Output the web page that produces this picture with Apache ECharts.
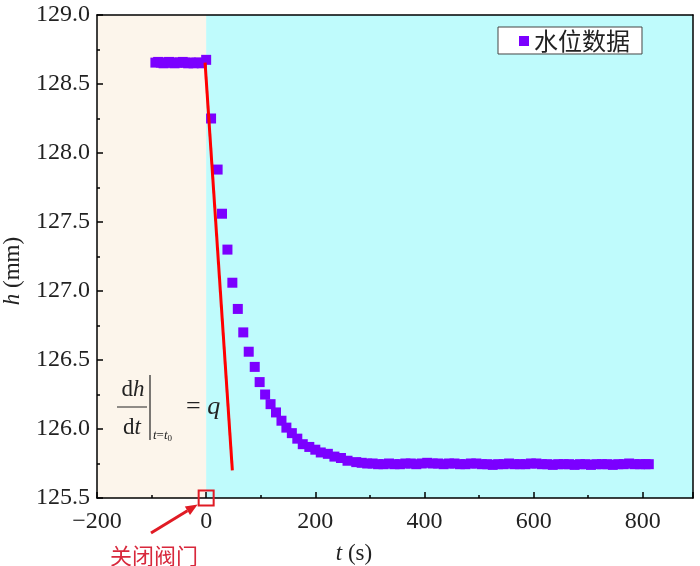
<!DOCTYPE html>
<html>
<head>
    <meta charset="utf-8">
    <title>水位数据</title>
    <script src="https://cdn.jsdelivr.net/npm/echarts@6/dist/echarts.min.js"></script>
</head>
<body style="margin:0">
<div id="main" style="width:700px;height:566px;"></div>
<script type="text/javascript">
    // 时间 t (s)
    const timeS = [
        -93, -88, -83, -78, -73, -68, -63, -58, -53, -48, -43, -38, -33, -28, -23, -18, -13, -8, 0,
        9, 21, 29, 39, 48, 58, 68, 78, 89, 98, 108, 118, 128, 138, 147, 157, 167, 177, 189, 200,
        210, 223, 235, 247, 259, 275,
        285, 295, 305, 315, 325, 335, 345, 355, 365, 375, 385, 395, 405, 415, 425, 435, 445, 455,
        465, 475, 485, 495, 505, 515, 525, 535, 545, 555, 565, 575, 585, 595, 605, 615, 625, 635,
        645, 655, 665, 675, 685, 695, 705, 715, 725, 735, 745, 755, 765, 775, 785, 795, 805, 811
    ];
    // 水位 h (mm)
    const levelMm = [
        128.655, 128.66, 128.655, 128.65, 128.655, 128.66, 128.655, 128.65, 128.655, 128.655,
        128.66, 128.655, 128.65, 128.655, 128.65, 128.655, 128.655, 128.65, 128.675,
        128.25, 127.88, 127.56, 127.30, 127.06, 126.87, 126.70, 126.56, 126.45, 126.34, 126.25,
        126.18, 126.12, 126.06, 126.01, 125.97, 125.93, 125.89, 125.87, 125.85, 125.83, 125.82,
        125.80, 125.79, 125.77, 125.76,
        125.755, 125.75, 125.75, 125.745, 125.745, 125.75, 125.745, 125.745, 125.75, 125.75,
        125.745, 125.75, 125.755, 125.75, 125.75, 125.745, 125.75, 125.75, 125.745, 125.745,
        125.75, 125.75, 125.745, 125.745, 125.74, 125.745, 125.745, 125.75, 125.745, 125.745,
        125.745, 125.75, 125.75, 125.745, 125.745, 125.74, 125.745, 125.745, 125.745, 125.74,
        125.745, 125.745, 125.74, 125.745, 125.745, 125.745, 125.74, 125.745, 125.745, 125.75,
        125.745, 125.745, 125.745, 125.745
    ];
    // 切线 dh/dt at t0
    const tangentT = [-2, 48];
    const tangentH = [128.655, 125.70];
    // 背景分区 (关闭阀门前 / 后)
    const regionEdges = [-200, 0, 892];
    const xTicks = {min: -200, max: 892, interval: 200};
    const yTicks = {min: 125.5, max: 129, interval: 0.5};

    const serif = 'Liberation Serif';
    const chart = echarts.init(document.getElementById('main'));

    const points = timeS.map((t, i) => [t, levelMm[i]]);
    const tangent = tangentT.map((t, i) => [t, tangentH[i]]);

    const axisCommon = {
        z: 5,
        axisLine: {show: true, onZero: false, lineStyle: {color: '#000', width: 1.5}},
        axisTick: {show: true, inside: true, length: 6, lineStyle: {color: '#000', width: 1.5}},
        minorTick: {show: true, splitNumber: 2, length: 3, lineStyle: {color: '#000', width: 1.5}},
        splitLine: {show: false},
        axisLabel: {fontFamily: serif, fontSize: 24, color: '#222'}
    };

    const option = {
        animation: false,
        grid: {left: 97, right: 7, top: 15, bottom: 68},
        legend: {
            left: 498, top: 27,
            padding: [2, 12, 1, 21],
            itemWidth: 10, itemHeight: 10,
            borderColor: '#444', borderWidth: 1, backgroundColor: '#fff',
            textStyle: {fontFamily: 'Noto Sans CJK SC', fontSize: 24, color: '#222'},
            data: [{name: '水位数据', icon: 'rect'}]
        },
        xAxis: [
            Object.assign({}, axisCommon, {
                type: 'value', min: xTicks.min, max: xTicks.max, interval: xTicks.interval,
                axisLabel: Object.assign({}, axisCommon.axisLabel, {
                    margin: 12, showMaxLabel: false,
                    formatter: v => String(v).replace('-', '\u2212')
                })
            }),
            {
                type: 'value', position: 'top', min: xTicks.min, max: xTicks.max, z: 5,
                axisLine: {show: true, onZero: false, lineStyle: {color: '#000', width: 1.5}},
                axisTick: {show: false}, axisLabel: {show: false}, splitLine: {show: false}
            }
        ],
        yAxis: [
            Object.assign({}, axisCommon, {
                type: 'value', min: yTicks.min, max: yTicks.max, interval: yTicks.interval,
                axisLabel: Object.assign({}, axisCommon.axisLabel, {
                    margin: 7, formatter: v => v.toFixed(1)
                })
            }),
            {
                type: 'value', position: 'right', min: yTicks.min, max: yTicks.max, z: 5,
                axisLine: {show: true, onZero: false, lineStyle: {color: '#000', width: 1.5}},
                axisTick: {show: false}, axisLabel: {show: false}, splitLine: {show: false}
            }
        ],
        series: [
            {
                type: 'line', data: [], z: 0, silent: true,
                markArea: {
                    silent: true,
                    data: [
                        [{xAxis: regionEdges[0], itemStyle: {color: '#FCF5EB'}}, {xAxis: regionEdges[1]}],
                        [{xAxis: regionEdges[1], itemStyle: {color: '#BFFBFC'}}, {xAxis: regionEdges[2]}]
                    ]
                }
            },
            {
                name: '水位数据', type: 'scatter', symbol: 'rect', symbolSize: 10, z: 2,
                itemStyle: {color: '#7B00FF', opacity: 1},
                data: points
            },
            {
                type: 'line', data: tangent, z: 3, symbol: 'none',
                lineStyle: {color: '#FF0000', width: 3}
            }
        ]
    };
    chart.setOption(option);

    // 标注: 关闭阀门 (t = 0)
    const p0 = chart.convertToPixel({xAxisIndex: 0, yAxisIndex: 0}, [0, yTicks.min]);
    const boxHalf = 7.5;
    const tail = [151, 533];
    const head = [p0[0] - boxHalf - 1, p0[1] + boxHalf - 1];
    const ang = Math.atan2(head[1] - tail[1], head[0] - tail[0]);
    const hl = 12, hw = 5;
    const base = [head[0] - hl * Math.cos(ang), head[1] - hl * Math.sin(ang)];
    const arrowHead = [
        head,
        [base[0] + hw * Math.sin(ang), base[1] - hw * Math.cos(ang)],
        [base[0] - hw * Math.sin(ang), base[1] + hw * Math.cos(ang)]
    ];
    const ink = '#222';
    const red = '#E01B24';

    chart.setOption({
        graphic: [
            {
                type: 'rect', z: 20,
                shape: {x: p0[0] - boxHalf, y: p0[1] - boxHalf, width: boxHalf * 2, height: boxHalf * 2},
                style: {fill: 'none', stroke: red, lineWidth: 2}
            },
            {
                type: 'line', z: 20,
                shape: {x1: tail[0], y1: tail[1], x2: base[0], y2: base[1]},
                style: {stroke: red, lineWidth: 3}
            },
            {type: 'polygon', z: 20, shape: {points: arrowHead}, style: {fill: red}},
            {
                type: 'text', z: 20, x: 154, y: 556,
                style: {text: '关闭阀门', fill: '#D8283C', font: '22px "Noto Sans CJK SC"', align: 'center', verticalAlign: 'middle'}
            },
            // 轴标题
            {
                type: 'text', z: 20, x: 354, y: 554,
                style: {
                    text: '{i|t} (s)', align: 'center', verticalAlign: 'middle', fill: ink,
                    rich: {i: {fontFamily: serif, fontStyle: 'italic', fontSize: 23, fill: ink}},
                    font: '23px "Liberation Serif"'
                }
            },
            {
                type: 'text', z: 20, x: 13, y: 271, rotation: Math.PI / 2,
                style: {
                    text: '{i|h} (mm)', align: 'center', verticalAlign: 'middle', fill: ink,
                    rich: {i: {fontFamily: serif, fontStyle: 'italic', fontSize: 23, fill: ink}},
                    font: '23px "Liberation Serif"'
                }
            },
            // 公式 dh/dt |t=t0 = q
            {
                type: 'text', z: 20, x: 133, y: 390,
                style: {
                    text: 'd{i|h}', align: 'center', verticalAlign: 'middle', fill: ink,
                    rich: {i: {fontFamily: serif, fontStyle: 'italic', fontSize: 23, fill: ink}},
                    font: '23px "Liberation Serif"'
                }
            },
            {type: 'line', z: 20, shape: {x1: 117, y1: 407, x2: 147, y2: 407}, style: {stroke: ink, lineWidth: 1}},
            {
                type: 'text', z: 20, x: 132, y: 428,
                style: {
                    text: 'd{i|t}', align: 'center', verticalAlign: 'middle', fill: ink,
                    rich: {i: {fontFamily: serif, fontStyle: 'italic', fontSize: 23, fill: ink}},
                    font: '23px "Liberation Serif"'
                }
            },
            {type: 'line', z: 20, shape: {x1: 150, y1: 375, x2: 150, y2: 440}, style: {stroke: ink, lineWidth: 1.2}},
            {
                type: 'text', z: 20, x: 153, y: 436,
                style: {
                    text: '{i|t}={i|t}{s|0}', align: 'left', verticalAlign: 'middle', fill: ink,
                    rich: {
                        i: {fontFamily: serif, fontStyle: 'italic', fontSize: 13, fill: ink},
                        s: {fontFamily: serif, fontSize: 9, fill: ink, padding: [6, 0, 0, 0]}
                    },
                    font: '13px "Liberation Serif"'
                }
            },
            {
                type: 'text', z: 20, x: 186, y: 407,
                style: {
                    text: '= {i|q}', align: 'left', verticalAlign: 'middle', fill: ink,
                    rich: {i: {fontFamily: serif, fontStyle: 'italic', fontSize: 26, fill: ink}},
                    font: '26px "Liberation Serif"'
                }
            }
        ]
    });
</script>
</body>
</html>
